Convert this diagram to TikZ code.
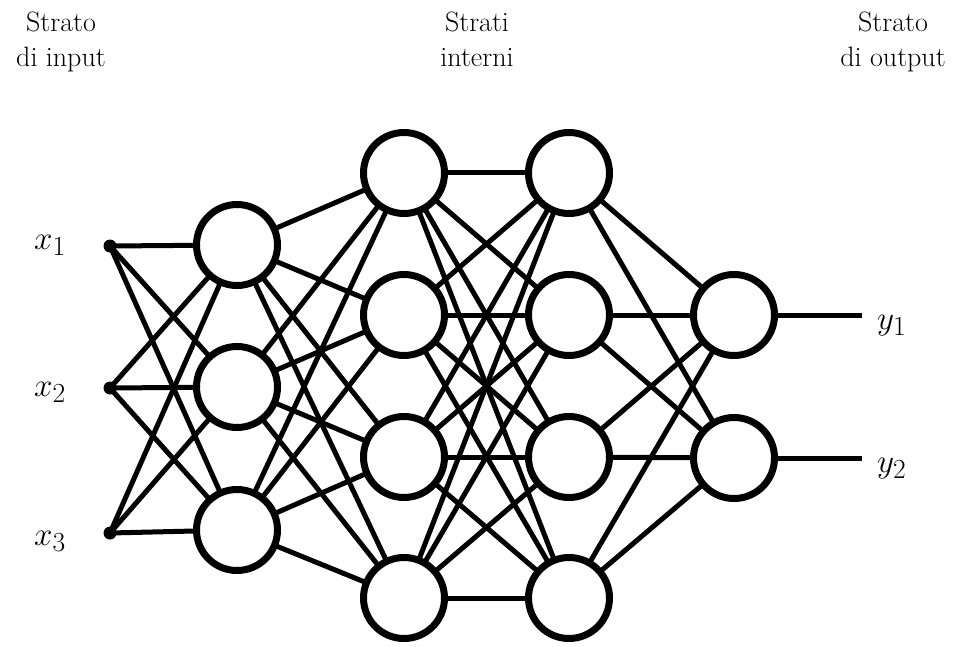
\documentclass[tikz,border=0pt]{standalone}
\usepackage{graphicx}
\begin{document}
\begin{tikzpicture}[x=1pt,y=-1pt,
  neuron/.style={circle,inner sep=0pt,minimum size=81pt},
  ring/.style={line width=7pt,draw=black,fill=white},
  inpt/.style={circle,inner sep=0pt,minimum size=13pt},
  link/.style={line width=5pt},
  head/.style={font=\fontsize{28}{34}\selectfont,anchor=base,inner sep=0pt},
  var/.style={font=\fontsize{24.88}{30}\selectfont,anchor=base west,inner sep=0pt}]
\useasboundingbox (0,0) rectangle (960,647);
\newcommand{\bigmath}[1]{\scalebox{1.33}{$#1$}}

% column headings
\node[head] (h1a) at (61,32) {Strato};
\node[head] (h1b) at (61,67) {di input};
\node[head] (h2a) at (477,32) {Strati};
\node[head] (h2b) at (477,67) {interni};
\node[head] (h3a) at (893,32) {Strato};
\node[head] (h3b) at (893,67) {di output};

% input points
\node[inpt] (i1) at (110,246) {};
\node[inpt] (i2) at (110,388) {};
\node[inpt] (i3) at (110,533) {};

% first hidden layer
\node[neuron] (a1) at (237,245) {};
\node[neuron] (a2) at (237,387) {};
\node[neuron] (a3) at (237,530) {};

% second hidden layer
\node[neuron] (b1) at (404,173) {};
\node[neuron] (b2) at (404,315) {};
\node[neuron] (b3) at (404,457) {};
\node[neuron] (b4) at (404,598) {};

% third hidden layer
\node[neuron] (c1) at (569,173) {};
\node[neuron] (c2) at (569,315) {};
\node[neuron] (c3) at (569,457) {};
\node[neuron] (c4) at (569,598) {};

% output layer
\node[neuron] (o1) at (734,315) {};
\node[neuron] (o2) at (734,458) {};
\coordinate (e1) at (862,315);
\coordinate (e2) at (862,458);

% connections between consecutive layers
\foreach \s in {i1,i2,i3}
  \foreach \t in {a1,a2,a3}
    \draw[link] (\s.center) -- (\t);
\foreach \s in {a1,a2,a3}
  \foreach \t in {b1,b2,b3,b4}
    \draw[link] (\s) -- (\t);
\foreach \s in {b1,b2,b3,b4}
  \foreach \t in {c1,c2,c3,c4}
    \draw[link] (\s) -- (\t);
\foreach \s in {c1,c2,c3,c4}
  \foreach \t in {o1,o2}
    \draw[link] (\s) -- (\t);
\draw[link] (o1) -- (e1);
\draw[link] (o2) -- (e2);

% neurons drawn over the connections
\foreach \n in {a1,a2,a3,b1,b2,b3,b4,c1,c2,c3,c4,o1,o2}
  \path[ring] (\n.center) circle (40.5pt);
\foreach \n in {i1,i2,i3}
  \fill (\n.center) circle (6.5pt);

% variable labels
\node[var] (x1) at (34,249) {\bigmath{x_1}};
\node[var] (x2) at (34,396) {\bigmath{x_2}};
\node[var] (x3) at (34,545) {\bigmath{x_3}};
\node[var] (y1) at (877,329) {\bigmath{y_1}};
\node[var] (y2) at (877,472) {\bigmath{y_2}};
\end{tikzpicture}
\end{document}
